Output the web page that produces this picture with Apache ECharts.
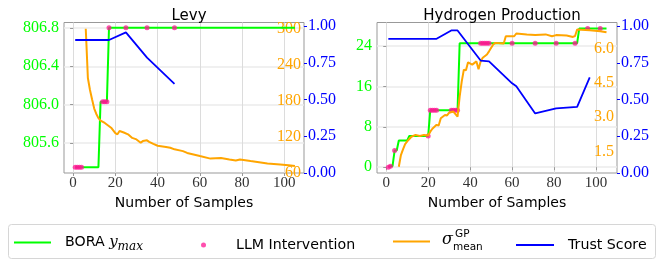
<!DOCTYPE html>
<html>
<head>
<meta charset="utf-8">
<script src="https://cdn.jsdelivr.net/npm/echarts@6.0.0/dist/echarts.min.js"></script>
<style>
  html, body { margin: 0; padding: 0; background: #fff; }
  #chart { width: 663px; height: 262px; }
</style>
</head>
<body>
<div id="chart"></div>
<script>
// ---- Levy ----
var levyBoraX = [1, 12, 13, 16, 17, 105];
var levyBoraY = [805.35, 805.35, 806.03, 806.03, 806.8, 806.8];
var levyLlmX = [1, 2, 3, 4, 14, 15, 16, 17, 25, 35, 48];
var levyLlmY = [805.35, 805.35, 805.35, 805.35, 806.03, 806.03, 806.03, 806.8, 806.8, 806.8, 806.8];
var levySigmaX = [6, 7, 8, 9, 10, 11, 12, 13, 15, 18, 20, 21, 22, 24, 26, 28, 30, 32, 33, 35, 36, 38, 40, 44, 46, 48, 52, 54, 60, 65, 70, 74, 77, 79, 84, 88, 92, 98, 102, 105];
var levySigmaY = [300, 218, 198, 182, 167, 158, 151, 147, 143, 135, 126, 124, 129.5, 127, 124, 118, 115.5, 110, 112.7, 114, 111.5, 108, 105, 103, 101.7, 99, 96, 93, 87.7, 83.5, 84.5, 82.2, 80.5, 82, 79.4, 77.5, 75.5, 73.8, 72.5, 71];
var levyTrustX = [1, 17, 25, 35, 48];
var levyTrustY = [0.905, 0.905, 0.957, 0.785, 0.607];

// ---- Hydrogen Production ----
var h2BoraX = [1, 2, 3, 4, 5, 6, 10, 11, 20, 21, 34, 35, 91, 92, 105];
var h2BoraY = [0, 0.2, 0.2, 3.3, 3.3, 5.3, 5.3, 6.2, 6.2, 11.3, 11.3, 24.6, 24.6, 27.5, 27.5];
var h2LlmX = [1, 2, 4, 20, 21, 22, 23, 24, 31, 32, 33, 34, 45, 46, 47, 48, 49, 60, 71, 81, 90, 96, 102];
var h2LlmY = [0, 0.2, 3.3, 6.2, 11.3, 11.3, 11.3, 11.3, 11.3, 11.3, 11.3, 11.3, 24.6, 24.6, 24.6, 24.6, 24.6, 24.6, 24.6, 24.6, 24.6, 27.5, 27.5];
var h2SigmaX = [6, 7, 8, 9, 10, 11, 12, 14, 16, 18, 20, 21, 22, 24, 25, 26, 28, 29, 30, 32, 34, 35, 36, 37, 38, 39, 41, 43, 44, 45, 46, 48, 49, 51, 52, 56, 57, 61, 62, 67, 71, 76, 79, 81, 86, 89, 90, 91, 97, 102, 105];
var h2SigmaY = [0.84, 1.35, 1.6, 1.83, 1.95, 2.05, 2.15, 2.23, 2.18, 2.23, 2.2, 2.37, 2.5, 2.67, 2.64, 2.96, 3.1, 3.08, 3.2, 3.25, 3.03, 3.9, 4.57, 5.08, 5.05, 5.4, 5.3, 5.44, 5.1, 5.44, 5.6, 5.74, 5.88, 6.18, 6.25, 6.22, 6.54, 6.54, 6.66, 6.62, 6.59, 6.62, 6.54, 6.59, 6.57, 6.51, 6.55, 6.83, 6.8, 6.76, 6.71];
var h2TrustX = [1, 24, 31, 34, 45, 49, 60, 62, 71, 81, 91, 97];
var h2TrustY = [0.913, 0.913, 0.97, 0.97, 0.765, 0.76, 0.61, 0.59, 0.405, 0.44, 0.45, 0.65];

// ---- tick labels ----
var sampleTicks = [0, 20, 40, 60, 80, 100];
var levyBoraTicks = [805.6, 806.0, 806.4, 806.8];
var levySigmaTicks = [60, 120, 180, 240, 300];
var h2BoraTicks = [0, 8, 16, 24];
var h2SigmaTicks = [1.5, 3.0, 4.5, 6.0];
var trustTicks = [0, 0.25, 0.5, 0.75, 1.0];

var GREEN = '#00ff00', PINK = '#ff1493', ORANGE = '#ffa500', BLUE = '#0000ff';
var SERIF = 'Liberation Serif', SANS = 'DejaVu Sans';

function zip(xs, ys) {
  return xs.map(function (x, i) { return [x, ys[i]]; });
}

function xAxisFor(grid, min, max) {
  return {
    type: 'value', gridIndex: grid, min: min, max: max,
    name: 'Number of Samples', nameLocation: 'middle', nameGap: 19,
    nameTextStyle: { fontFamily: SANS, fontSize: 14, color: '#000' },
    axisLine: { show: false },
    axisTick: { show: true, length: 3, customValues: sampleTicks, lineStyle: { color: '#999' } },
    axisLabel: { customValues: sampleTicks, margin: 3, fontFamily: SERIF, fontSize: 15, color: '#333' },
    splitLine: { show: true, lineStyle: { color: '#dcdcdc', width: 1 } }
  };
}

function yAxesFor(grid, bora, sigma) {
  return [
    { // BORA y_max (left)
      type: 'value', gridIndex: grid, position: 'left', min: bora.min, max: bora.max,
      axisLine: { show: false },
      axisTick: { show: true, length: 3, customValues: bora.ticks, lineStyle: { color: '#999' } },
      axisLabel: { customValues: bora.ticks, margin: 5, fontFamily: SERIF, fontSize: 16, color: GREEN, formatter: bora.fmt },
      splitLine: { show: true, lineStyle: { color: '#ebebeb', width: 1.5 } }
    },
    { // sigma (right, labels inside)
      type: 'value', gridIndex: grid, position: 'right', min: sigma.min, max: sigma.max,
      axisLine: { show: false }, axisTick: { show: false },
      axisLabel: { inside: true, customValues: sigma.ticks, margin: 3, fontFamily: SERIF, fontSize: 16, color: ORANGE, formatter: sigma.fmt },
      splitLine: { show: false }
    },
    { // trust score (right, outside)
      type: 'value', gridIndex: grid, position: 'right', min: 0, max: 1.024,
      axisLine: { show: false },
      axisTick: { show: true, length: 3, customValues: trustTicks, lineStyle: { color: BLUE } },
      axisLabel: { customValues: trustTicks, margin: 4, fontFamily: SERIF, fontSize: 16, color: BLUE, formatter: function (v) { return v.toFixed(2); } },
      splitLine: { show: false }
    }
  ];
}

function seriesFor(grid, yBase, bora, llm, sigma, trust) {
  return [
    { name: 'BORA', type: 'line', xAxisIndex: grid, yAxisIndex: yBase, data: bora, symbol: 'none',
      lineStyle: { color: GREEN, width: 2 }, itemStyle: { color: GREEN }, z: 2 },
    { name: 'LLM Intervention', type: 'scatter', xAxisIndex: grid, yAxisIndex: yBase, data: llm, symbolSize: 5,
      itemStyle: { color: PINK, opacity: 0.75 }, z: 3 },
    { name: 'sigma', type: 'line', xAxisIndex: grid, yAxisIndex: yBase + 1, data: sigma, symbol: 'none',
      lineStyle: { color: ORANGE, width: 2 }, itemStyle: { color: ORANGE }, z: 4 },
    { name: 'Trust Score', type: 'line', xAxisIndex: grid, yAxisIndex: yBase + 2, data: trust, symbol: 'none',
      lineStyle: { color: BLUE, width: 1.8 }, itemStyle: { color: BLUE }, z: 5 }
  ];
}

var legendBase = { top: 235, padding: 0, itemHeight: 2, itemWidth: 37, orient: 'horizontal', selectedMode: false };
var legendText = { fontFamily: SANS, fontSize: 14.2, color: '#000', lineHeight: 20 };

var option = {
  backgroundColor: '#fff',
  animation: false,
  title: [
    { text: 'Levy', left: 184, top: 4, textAlign: 'center', textStyle: { fontFamily: SANS, fontSize: 15, fontWeight: 'normal', color: '#000' } },
    { text: 'Hydrogen Production', left: 497, top: 4, textAlign: 'center', textStyle: { fontFamily: SANS, fontSize: 15, fontWeight: 'normal', color: '#000' } }
  ],
  grid: [
    { left: 64, top: 22.5, width: 240, height: 150.5, show: true, borderColor: '#999', borderWidth: 1, backgroundColor: 'transparent' },
    { left: 377, top: 22.5, width: 240, height: 150.5, show: true, borderColor: '#999', borderWidth: 1, backgroundColor: 'transparent' }
  ],
  xAxis: [xAxisFor(0, -4.3, 109.3), xAxisFor(1, -4.4, 110)],
  yAxis: yAxesFor(0,
      { min: 805.29, max: 806.855, ticks: levyBoraTicks, fmt: function (v) { return v.toFixed(1); } },
      { min: 59.5, max: 310.5, ticks: levySigmaTicks, fmt: function (v) { return String(Math.round(v)); } })
    .concat(yAxesFor(1,
      { min: -1.15, max: 28.7, ticks: h2BoraTicks, fmt: function (v) { return String(Math.round(v)); } },
      { min: 0.566, max: 7.14, ticks: h2SigmaTicks, fmt: function (v) { return v.toFixed(1); } })),
  legend: [
    Object.assign({}, legendBase, {
      left: 14, data: [{ name: 'BORA', icon: 'rect' }],
      formatter: function () { return '{n|BORA }{y|y}{s|max}'; },
      textStyle: { padding: [0, 0, 0, 9], rich: {
        n: legendText,
        y: { fontFamily: 'DejaVu Serif', fontStyle: 'italic', fontSize: 15, color: '#000', lineHeight: 20 },
        s: { fontFamily: 'DejaVu Serif', fontStyle: 'italic', fontSize: 12, color: '#000', lineHeight: 12, verticalAlign: 'bottom' }
      } }
    }),
    Object.assign({}, legendBase, {
      left: 201, data: [{ name: 'LLM Intervention', icon: 'circle' }], itemWidth: 5, itemHeight: 5,
      textStyle: Object.assign({ padding: [0, 0, 0, 25] }, legendText)
    }),
    Object.assign({}, legendBase, {
      left: 393, top: 240.5, data: [{ name: 'sigma', icon: 'rect' }], formatter: function () { return ''; }
    }),
    Object.assign({}, legendBase, {
      left: 516, itemWidth: 38, data: [{ name: 'Trust Score', icon: 'rect' }],
      textStyle: Object.assign({ padding: [0, 0, 0, 9] }, legendText)
    })
  ],
  graphic: [
    { type: 'rect', left: 8, top: 224, z: -10, shape: { width: 647, height: 34, r: 3 },
      style: { fill: '#fff', stroke: '#d6d6d6', lineWidth: 1 } },
    { type: 'text', left: 442, top: 232, style: { text: 'σ', fontFamily: 'DejaVu Serif', fontStyle: 'italic', fontSize: 16, fill: '#000' } },
    { type: 'text', left: 455, top: 229, style: { text: 'GP', fontFamily: SANS, fontSize: 10.5, fill: '#000' } },
    { type: 'text', left: 453, top: 242, style: { text: 'mean', fontFamily: SANS, fontSize: 10.5, fill: '#000' } }
  ],
  series: seriesFor(0, 0, zip(levyBoraX, levyBoraY), zip(levyLlmX, levyLlmY), zip(levySigmaX, levySigmaY), zip(levyTrustX, levyTrustY))
    .concat(seriesFor(1, 3, zip(h2BoraX, h2BoraY), zip(h2LlmX, h2LlmY), zip(h2SigmaX, h2SigmaY), zip(h2TrustX, h2TrustY)))
};

var myChart = echarts.init(document.getElementById('chart'));
myChart.setOption(option);
</script>
</body>
</html>
